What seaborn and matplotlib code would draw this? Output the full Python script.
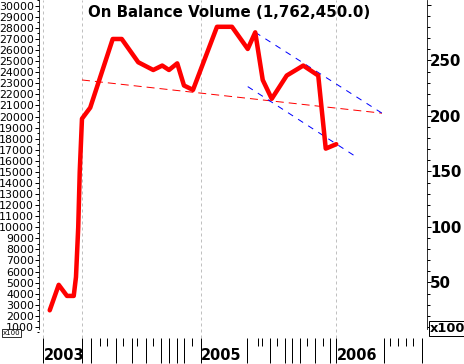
import matplotlib
matplotlib.use("Agg")
import matplotlib.pyplot as plt
import matplotlib.transforms as mtransforms
import seaborn as sns
import pandas as pd

# On Balance Volume series (x = period index, y = OBV in hundreds)
obv_t = [0.9, 2.1, 3.2, 4.1, 4.4, 4.7, 4.9, 5.2, 6.3, 9.3, 10.5, 12.7, 14.7, 15.9, 16.8,
         17.9, 18.8, 20.0, 23.2, 25.2, 27.3, 28.3, 29.3, 30.5, 32.5, 34.7, 36.7, 37.7, 39.1]
obv_val = [2500, 4800, 3800, 3800, 5500, 10000, 15000, 19800, 20800, 27000, 27000, 24900,
           24200, 24600, 24200, 24800, 22800, 22400, 28100, 28100, 26100, 27600, 23300,
           21600, 23700, 24600, 23700, 17100, 17500]

# trend lines (start / end points)
red_trend_t = [5.2, 45.2]
red_trend_val = [23300, 20300]
blue_upper_t = [28.3, 45.2]
blue_upper_val = [27600, 20300]
blue_lower_t = [27.3, 42.0]
blue_lower_val = [22700, 16250]

# x axis
year_labels = ["2003", "2005", "2006"]
year_pos = [0.13, 21.07, 39.2]
grid_pos = [0.0, 5.2, 21.04, 39.03]
major_ticks = [0.0, 5.2, 6.4, 9.7, 11.9, 13.7, 15.7, 16.8, 17.9, 18.8, 21.04, 27.2, 30.3,
               32.3, 33.2, 34.3, 36.3, 38.3, 39.03, 45.5, 50.5]
minor_ticks = [7.6, 8.5, 10.7, 12.5, 14.7, 19.9, 28.7, 29.2, 31.2, 35.2, 37.3, 46.3, 47.3,
               48.4, 49.3]

df = pd.DataFrame({"t": obv_t, "obv": obv_val})

sns.set_style("white")
plt.rcParams["font.family"] = ["DejaVu Sans"]
plt.rcParams["text.color"] = "black"
plt.rcParams["xtick.color"] = "black"
plt.rcParams["ytick.color"] = "black"
plt.rcParams["axes.edgecolor"] = "black"

fig = plt.figure(figsize=(464 / 72, 364 / 72), dpi=72)
ax = fig.add_axes([39 / 464, 26 / 364, (427 - 39) / 464, 338 / 364])

for g in grid_pos:
    ax.axvline(g, color="#c0c0c0", lw=1, linestyle=(0, (3, 3)), zorder=0)

sns.lineplot(x=red_trend_t, y=red_trend_val, ax=ax, color="#ff0000", lw=1,
             linestyle=(0, (8, 5)))
sns.lineplot(x=blue_upper_t, y=blue_upper_val, ax=ax, color="#0000ff", lw=1,
             linestyle=(0, (6, 6)))
sns.lineplot(x=blue_lower_t, y=blue_lower_val, ax=ax, color="#0000ff", lw=1,
             linestyle=(0, (6, 6)))
sns.lineplot(data=df, x="t", y="obv", ax=ax, color="#ff0000", lw=4.5)

ax.set_xlim(-0.53, 51.2)
ax.set_ylim(0, 30520)
ax.set_xlabel("")
ax.set_ylabel("")

ax.set_yticks(range(1000, 30001, 1000))
ax.set_yticks(range(500, 30501, 1000), minor=True)
ax.tick_params(axis="y", which="major", length=4, width=1, pad=1, labelsize=11,
               direction="out", left=True, colors="black")
ax.tick_params(axis="y", which="minor", length=2, width=1, left=True, direction="out")

ax.set_xticks(major_ticks)
ax.set_xticks(minor_ticks, minor=True)
ax.tick_params(axis="x", which="major", length=25, width=1, direction="out",
               bottom=True, labelbottom=False)
ax.tick_params(axis="x", which="minor", length=8, width=1, direction="out", bottom=True)

for s in ["top", "bottom", "right"]:
    ax.spines[s].set_visible(False)
ax.spines["left"].set_color("black")
ax.spines["left"].set_bounds(800, 30520)

trans = mtransforms.blended_transform_factory(ax.transData, ax.transAxes)
for lab, pos in zip(year_labels, year_pos):
    ax.text(pos, -22 / 338, lab, transform=trans, ha="left", va="baseline",
            fontsize=14.5, fontweight="bold", clip_on=False)

ax2 = ax.twinx()
ax2.set_ylim(0, 304.5)
ax2.set_yticks(range(50, 301, 50))
ax2.set_yticklabels(["50", "100", "150", "200", "250", ""])
ax2.set_yticks(range(10, 301, 10), minor=True)
ax2.tick_params(axis="y", which="major", length=4, width=1, pad=-1, labelsize=15,
                right=True, direction="out")
ax2.tick_params(axis="y", which="minor", length=3, width=1, right=True, direction="out")
for lab in ax2.get_yticklabels():
    lab.set_fontweight("bold")
for s in ["top", "bottom", "left"]:
    ax2.spines[s].set_visible(False)
ax2.spines["right"].set_color("black")
ax2.spines["right"].set_bounds(8, 304.5)
ax2.grid(False)
ax.grid(False)

fig.text(88 / 464, 1 - 5 / 364, "On Balance Volume (1,762,450.0)", ha="left", va="top",
         fontsize=15, fontweight="bold")
fig.text(3 / 464, 1 - 335 / 364, "x100", fontsize=7, ha="left", va="baseline",
         bbox=dict(boxstyle="square,pad=0.1", fc="white", ec="black", lw=0.8))
fig.text(430 / 464, 1 - 332 / 364, "x1000", fontsize=13, fontweight="bold", ha="left",
         va="baseline", bbox=dict(boxstyle="square,pad=0.1", fc="white", ec="black", lw=1))

fig.savefig("out.png", dpi=72)
